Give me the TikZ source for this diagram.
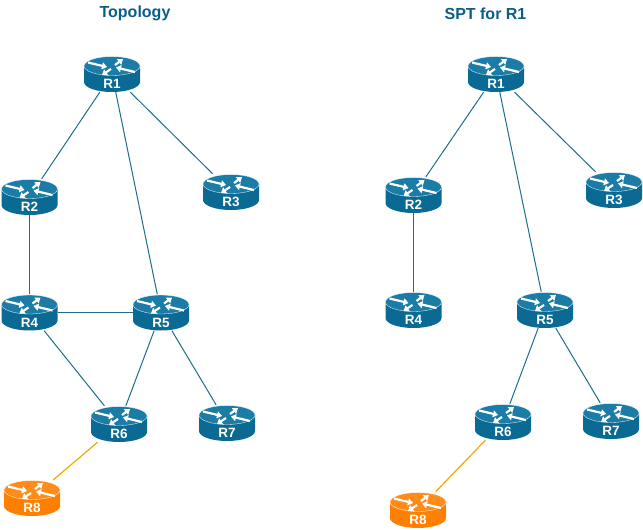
\documentclass[tikz,border=0pt]{standalone}
\usepackage{fontspec}
\setmainfont{Liberation Sans}
\usetikzlibrary{arrows.meta}
\definecolor{routerside}{HTML}{0B6A93}
\definecolor{routertop}{HTML}{1B7CA8}
\definecolor{hopside}{HTML}{FF7F00}
\definecolor{hoptop}{HTML}{FF8C1A}
\definecolor{titleblue}{HTML}{0B5E87}
\definecolor{linkblue}{HTML}{1F6C8C}
\definecolor{linkorange}{HTML}{F5A800}
\tikzset{
  x = 1pt, y = -1pt,
  title/.style = {text = titleblue, font = \fontsize{16}{18}\selectfont\bfseries},
  routerbox/.style = {inner sep = 0pt, minimum width = 56pt, minimum height = 36pt},
  routername/.style = {text = white, font = \fontsize{13.5}{15}\selectfont\bfseries},
  link/.style = {linkblue, line width = 1pt},
  hoplink/.style = {linkorange, line width = 1.2pt},
  flow/.style = {white, line width = 2.2pt, -{Triangle[length = 5pt, width = 7pt]}}
}
% one router drawn around (#2), named #1
\newcommand{\router}[4]{
  \begin{scope}[shift = {(#2)}]
    \fill [#3] (-28,-8) -- (-28,8) arc [start angle = 180, end angle = 0,
      x radius = 28, y radius = 10] -- (28,-8) -- cycle;
    \draw [#4, fill = #4, draw = white, line width = .3pt] (0,-8) ellipse (28 and 9.5);
    \draw [flow] (-24,-11.5) -- (-5,-7);
    \draw [flow] (3,-9) -- (11,-15);
    \draw [flow] (-1,-5) -- (-10,1);
    \draw [flow] (23,-2) -- (4,-6.5);
    \node [routername] at (0,10) {R#1};
  \end{scope}
}
\begin{document}
\begin{tikzpicture}
  \useasboundingbox (0,0) rectangle (643,530);
  \node [title] at (135,13.5) {Topology};
  \node [title] at (485.5,13.5) {SPT for R1};
  % topology
  \foreach \name/\pos in {1/{112,74}, 2/{29.5,197}, 3/{231,192}, 4/{29.5,312.5},
                          5/{161,312.5}, 6/{119,424}, 7/{227,423}} {
    \router{\name}{\pos}{routerside}{routertop}
    \node [routerbox] (a\name) at (\pos) {};
  }
  \router{8}{32,498}{hopside}{hoptop}
  \node [routerbox] (a8) at (32,498) {};
  \foreach \from/\to in {1/2, 1/3, 1/5, 2/4, 4/5, 4/6, 5/6, 5/7}
    \draw [link] (a\from) -- (a\to);
  \draw [hoplink] (a6) -- (a8);
  % shortest paths
  \foreach \name/\pos in {1/{496,74}, 2/{413.5,195}, 3/{614,190}, 4/{413.5,310},
                          5/{545,310}, 6/{503,422}, 7/{611,421}} {
    \router{\name}{\pos}{routerside}{routertop}
    \node [routerbox] (b\name) at (\pos) {};
  }
  \router{8}{418,510}{hopside}{hoptop}
  \node [routerbox] (b8) at (418,510) {};
  \foreach \from/\to in {1/2, 1/3, 1/5, 2/4, 5/6, 5/7}
    \draw [link] (b\from) -- (b\to);
  \draw [hoplink] (b6) -- (b8);
\end{tikzpicture}
\end{document}
